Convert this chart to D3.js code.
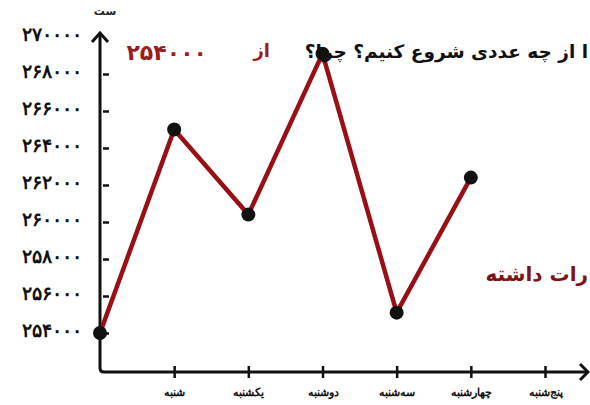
<!DOCTYPE html>
<html>
<head>
<meta charset="utf-8">
<script src="https://cdn.jsdelivr.net/npm/d3@7"></script>
<style>
  body { margin: 0; background: #fff; }
  svg { display: block; font-family: "DejaVu Sans", sans-serif; }
</style>
</head>
<body>
<script>
const days = ["شنبه", "یکشنبه", "دوشنبه", "سه‌شنبه", "چهارشنبه", "پنج‌شنبه"];
const pointKeys = ["start", "شنبه", "یکشنبه", "دوشنبه", "سه‌شنبه", "چهارشنبه"];
const pointValues = [254000, 265000, 260400, 269100, 255100, 262400];
const yTicks = [254000, 256000, 258000, 260000, 262000, 264000, 266000, 268000, 270000];

const width = 590, height = 405;
const x0 = 100, yAxisBottom = 372;

const fa = s => String(s).replace(/\d/g, d => "۰۱۲۳۴۵۶۷۸۹"[d]);

const svg = d3.select("body").append("svg").attr("width", width).attr("height", height);

const x = d3.scalePoint().domain(["start", ...days]).range([x0, 545]);
const y = d3.scaleLinear().domain([254000, 270000]).range([333, 37]);

// y axis ticks + labels
const yAxis = svg.append("g").attr("transform", `translate(${x0},0)`)
  .call(d3.axisLeft(y).tickValues(yTicks).tickSize(-9).tickPadding(18).tickFormat(fa));
yAxis.select(".domain").remove();
yAxis.selectAll(".tick line").attr("stroke", "#111").attr("stroke-width", 2.5).attr("x1", 3);
yAxis.selectAll(".tick").filter(d => d === 270000).select("line").remove();
yAxis.selectAll("text").attr("font-size", 19).attr("font-weight", "bold").attr("fill", "#111")
  .attr("y", -3);

// x axis ticks + labels
const xAxis = svg.append("g").attr("transform", `translate(0,${yAxisBottom})`)
  .call(d3.axisBottom(x).tickValues(days).tickSize(6).tickPadding(10));
xAxis.select(".domain").remove();
xAxis.selectAll(".tick line").attr("stroke", "#111").attr("stroke-width", 2.5).attr("y1", -6);
xAxis.selectAll("text").attr("font-size", 11).attr("font-weight", "bold").attr("fill", "#111");

// axis lines with arrows
svg.append("path")
  .attr("d", `M${x0},33 L${x0},${yAxisBottom - 4} Q${x0},${yAxisBottom} ${x0 + 4},${yAxisBottom} L588,${yAxisBottom}`)
  .attr("fill", "none").attr("stroke", "#111").attr("stroke-width", 3);
svg.append("path").attr("d", `M${x0 - 8},42 L${x0},33 L${x0 + 8},42`)
  .attr("fill", "none").attr("stroke", "#111").attr("stroke-width", 3);
svg.append("path").attr("d", `M580,${yAxisBottom - 8} L588,${yAxisBottom} L580,${yAxisBottom + 8}`)
  .attr("fill", "none").attr("stroke", "#111").attr("stroke-width", 3);

svg.append("text").attr("x", 105).attr("y", 15).attr("text-anchor", "middle")
  .attr("font-size", 11).attr("font-weight", "bold").attr("fill", "#222").text("ست");

// series
const pts = pointKeys.map((k, i) => ({ k, v: pointValues[i] }));
svg.append("path").datum(pts)
  .attr("d", d3.line().x(d => x(d.k)).y(d => y(d.v)))
  .attr("fill", "none").attr("stroke", "#980f15").attr("stroke-width", 4.5)
  .attr("stroke-linejoin", "round");
svg.selectAll("circle.pt").data(pts).join("circle").attr("class", "pt")
  .attr("cx", d => x(d.k)).attr("cy", d => y(d.v)).attr("r", 7).attr("fill", "#111");

// annotations
svg.append("text").attr("x", 588).attr("y", 58).attr("direction", "rtl").attr("text-anchor", "start")
  .attr("font-size", 18.5).attr("font-weight", "bold").attr("fill", "#111")
  .text("ا از چه عددی شروع کنیم؟ چرا؟");
svg.append("text").attr("x", 270).attr("y", 57).attr("direction", "rtl").attr("text-anchor", "start")
  .attr("font-size", 18).attr("font-weight", "bold").attr("fill", "#9b1c1c").text("از");
svg.append("text").attr("x", 207).attr("y", 60).attr("direction", "rtl").attr("text-anchor", "start")
  .attr("font-size", 22).attr("font-weight", "bold").attr("fill", "#9b1c1c").text(fa(254000));
svg.append("text").attr("x", 588).attr("y", 281).attr("direction", "rtl").attr("text-anchor", "start")
  .attr("font-size", 20).attr("font-weight", "bold").attr("fill", "#7d1418").text("رات داشته");
</script>
</body>
</html>
